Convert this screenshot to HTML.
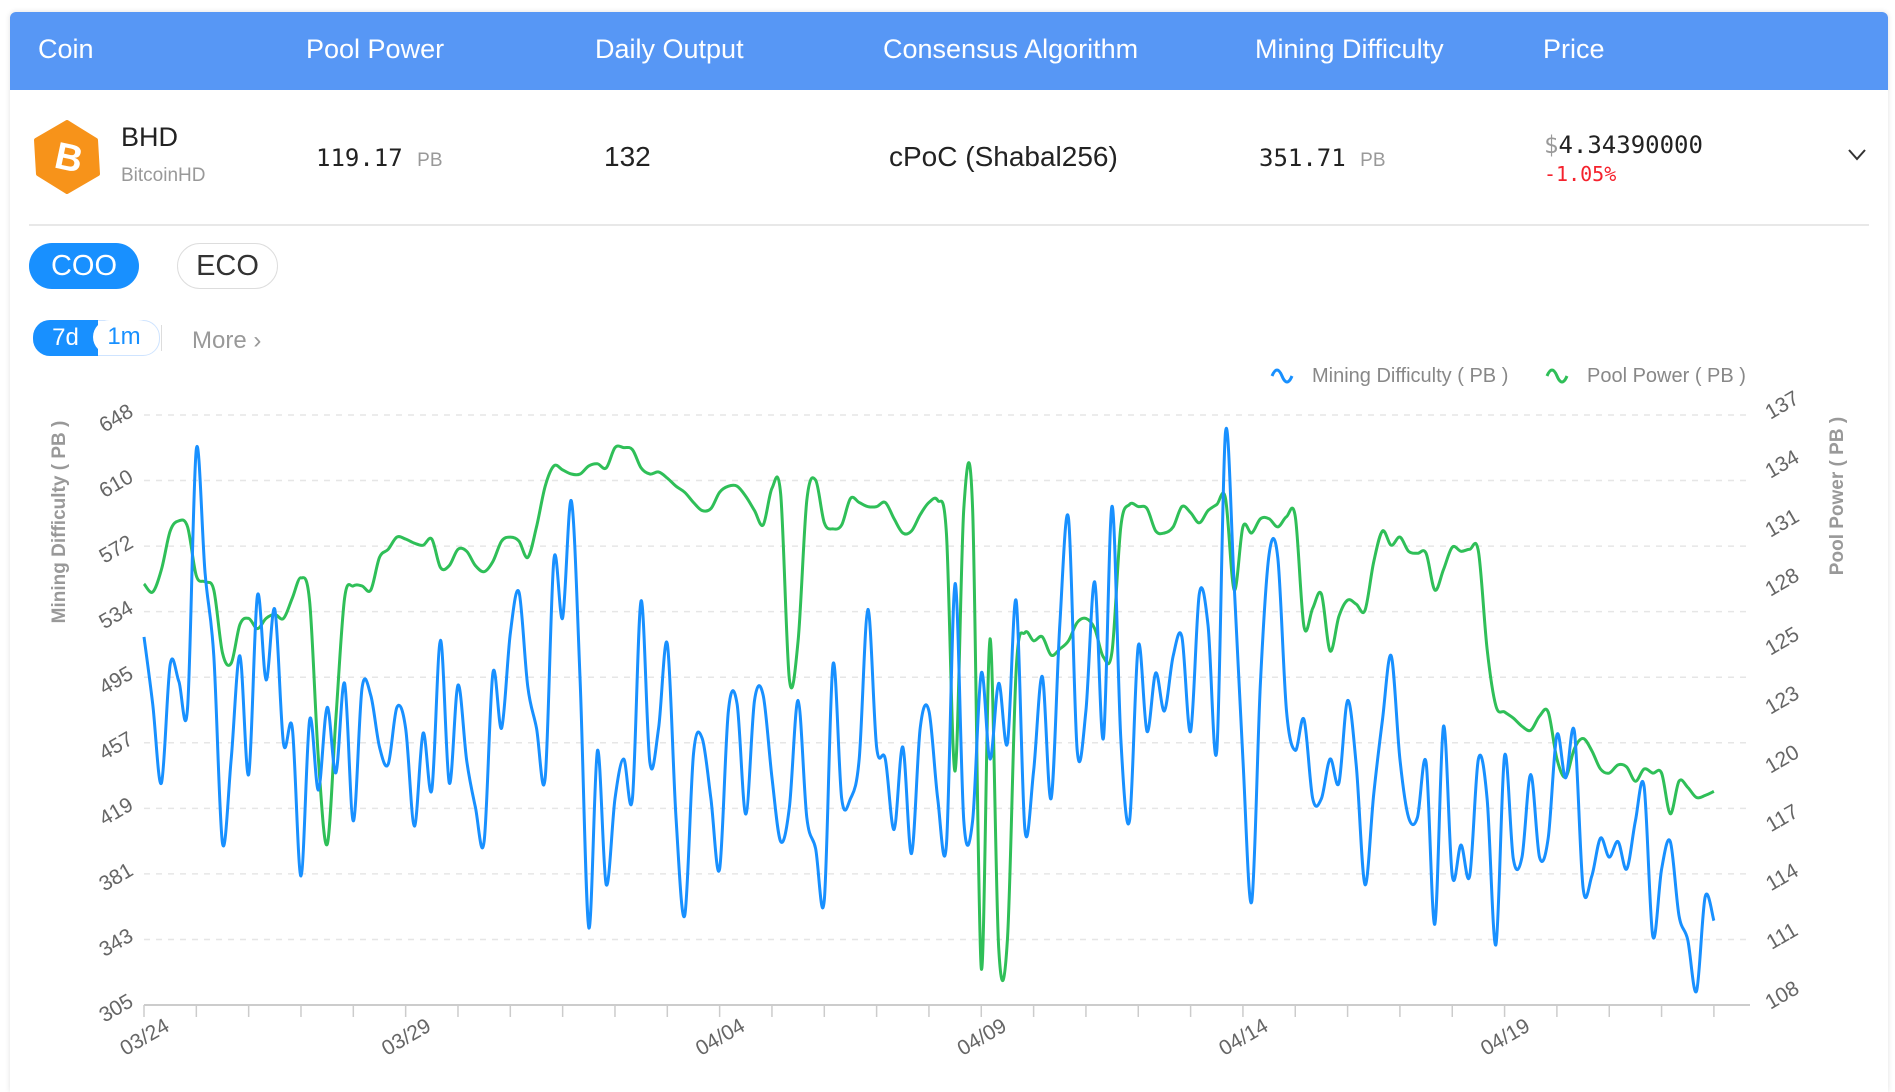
<!DOCTYPE html>
<html><head><meta charset="utf-8">
<style>
html,body{margin:0;padding:0;background:#fff;}
body{width:1895px;height:1082px;overflow:hidden;position:relative;font-family:"Liberation Sans",sans-serif;}
.abs{position:absolute;white-space:nowrap;}
.card{position:absolute;left:10px;top:12px;width:1878px;height:1080px;background:#fff;box-shadow:0 0 6px rgba(0,0,0,0.12);border-radius:6px 6px 0 0;}
.hdr{position:absolute;left:10px;top:12px;width:1878px;height:78px;background:#5797f5;border-radius:6px 6px 0 0;}
.hdr span{position:absolute;top:22px;color:#fff;font-size:27px;}
.mono{font-family:"DejaVu Sans Mono","Liberation Mono",monospace;}
</style></head><body>
<div class="card"></div>
<div class="hdr">
 <span style="left:28px">Coin</span>
 <span style="left:296px">Pool Power</span>
 <span style="left:585px">Daily Output</span>
 <span style="left:873px">Consensus Algorithm</span>
 <span style="left:1245px">Mining Difficulty</span>
 <span style="left:1533px">Price</span>
</div>
<svg class="abs" style="left:30px;top:120px" width="74" height="74" viewBox="0 0 74 74">
 <path d="M37 2 L66 20 L68 54 L37 72 L8 54 L6 20 Z" fill="#f7931a" stroke="#f7931a" stroke-width="4" stroke-linejoin="round"/>
 <text x="39" y="50" font-size="38" font-weight="bold" fill="#fff" text-anchor="middle" font-family="Liberation Sans" transform="rotate(12 37 37)">B</text>
</svg>
<div class="abs" style="left:121px;top:122px;font-size:27px;color:#222">BHD</div>
<div class="abs" style="left:121px;top:165px;font-size:19px;color:#999">BitcoinHD</div>
<div class="abs mono" style="left:316px;top:144px;font-size:24px;color:#222">119.17 <span style="font-size:19px;color:#999;font-family:'Liberation Sans'">PB</span></div>
<div class="abs" style="left:604px;top:141px;font-size:28px;color:#222">132</div>
<div class="abs" style="left:889px;top:141px;font-size:28px;color:#222">cPoC (Shabal256)</div>
<div class="abs mono" style="left:1259px;top:144px;font-size:24px;color:#222">351.71 <span style="font-size:19px;color:#999;font-family:'Liberation Sans'">PB</span></div>
<div class="abs mono" style="left:1544px;top:131px;font-size:24px;color:#222"><span style="color:#999">$</span>4.34390000</div>
<div class="abs mono" style="left:1544px;top:162px;font-size:20px;color:#f5222d">-1.05%</div>
<svg class="abs" style="left:1847px;top:148px" width="20" height="14"><path d="M2 2 L10 11 L18 2" fill="none" stroke="#333" stroke-width="2"/></svg>
<div class="abs" style="left:29px;top:224px;width:1840px;height:2px;background:#e8e8e8"></div>
<div class="abs" style="left:29px;top:243px;width:110px;height:46px;border-radius:23px;background:#1890ff;color:#fff;font-size:29px;line-height:46px;text-align:center">COO</div>
<div class="abs" style="left:177px;top:243px;width:99px;height:44px;border-radius:23px;border:1px solid #ddd;color:#333;font-size:29px;line-height:44px;text-align:center">ECO</div>
<div class="abs" style="left:33px;top:320px;width:125px;height:34px;border-radius:17px;border:1px solid #cfe4ff;background:#fff"></div>
<div class="abs" style="left:33px;top:320px;width:65px;height:36px;border-radius:17px 0 0 17px;background:#1890ff;color:#fff;font-size:24px;line-height:35px;text-align:center">7d</div>
<div class="abs" style="left:93px;top:320px;width:62px;height:34px;border-radius:17px;background:#fff;color:#1890ff;font-size:24px;line-height:34px;text-align:center">1m</div>
<div class="abs" style="left:161px;top:325px;width:1px;height:26px;background:#ddd"></div>
<div class="abs" style="left:192px;top:327px;font-size:24px;color:#999">More &#8250;</div>

<svg class="abs" style="left:0;top:0" width="1895" height="1082" id="chart"></svg>
<script>
const dateLabels=["03/24","03/29","04/04","04/09","04/14","04/19"];
const dateLabelDays=[0,5,11,16,21,26];
const leftTicks=["305","343","381","419","457","495","534","572","610","648"];
const rightTicks=["108","111","114","117","120","123","125","128","131","134","137"];
const difficulty=[519,480,434,503,493,478,628,556,508,399,448,508,439,543,494,535,457,466,380,471,430,478,440,492,412,489,485,455,445,478,466,409,463,430,517,434,491,447,420,400,498,466,521,545,490,466,437,564,530,598,494,350,453,375,425,448,425,540,446,466,515,414,357,451,460,425,384,476,480,416,482,485,437,400,420,482,414,396,366,503,425,425,448,535,455,448,407,455,393,466,476,425,398,550,412,412,498,448,492,457,540,407,441,496,425,526,588,453,476,551,460,595,460,412,514,464,498,476,508,519,464,544,526,453,638,549,448,365,492,567,565,476,453,471,425,425,448,434,482,444,375,428,471,508,448,414,414,446,352,467,380,398,380,448,425,340,450,390,391,439,391,402,462,437,464,373,380,402,391,400,384,412,432,345,384,400,357,343,313,368,354];
const poolPower=[128.7,128.3,129.4,131.3,131.8,131.5,129.1,128.8,128.4,125.3,124.8,126.7,127.0,126.5,127.0,127.2,127.0,128.0,129.0,127.8,120.1,115.9,122.1,128.0,128.6,128.6,128.4,130.0,130.4,131.0,130.9,130.7,130.6,130.9,129.5,129.6,130.4,130.3,129.6,129.3,129.8,130.8,131.0,130.8,130.0,131.5,133.5,134.5,134.3,134.1,134.1,134.5,134.6,134.4,135.4,135.4,135.3,134.4,134.1,134.2,133.9,133.5,133.2,132.7,132.3,132.4,133.2,133.5,133.5,133.0,132.3,131.6,133.4,133.1,124.0,125.9,132.8,133.8,131.7,131.4,131.6,132.9,132.7,132.5,132.5,132.7,131.9,131.2,131.3,132.1,132.7,132.8,131.2,119.5,132.4,132.4,109.8,126.0,110.8,111.2,124.5,126.3,125.9,126.1,125.2,125.5,125.9,126.8,127.0,126.5,125.1,125.4,131.5,132.6,132.5,132.4,131.3,131.2,131.5,132.5,132.2,131.7,132.3,132.6,132.9,128.4,131.5,131.2,131.9,131.9,131.5,132.0,132.0,126.6,127.5,128.2,125.4,127.1,127.9,127.7,127.4,129.8,131.3,130.6,131.0,130.3,130.2,130.2,128.4,129.4,130.5,130.3,130.4,130.3,125.5,122.7,122.4,122.1,121.7,121.5,122.2,122.4,120.1,119.2,120.6,121.1,120.5,119.6,119.4,119.8,119.7,119.0,119.6,119.4,119.4,117.4,119.0,118.7,118.2,118.3,118.5];
const NS="http://www.w3.org/2000/svg";
const svg=document.getElementById('chart');
const X0=144,DAY=52.33,PPD=6,Y0=1005,Y1=415;
const xDay=d=>X0+d*DAY;
const xIdx=i=>X0+i*DAY/PPD;
const yL=v=>Y0-(v-305)/(648-305)*(Y0-Y1);
const yR=v=>Y0-(v-108)/(137-108)*(Y0-Y1);
function mk(tag,attrs,txt){const e=document.createElementNS(NS,tag);for(const k in attrs)e.setAttribute(k,attrs[k]);if(txt!==undefined)e.textContent=txt;svg.appendChild(e);return e;}
for(let k=1;k<leftTicks.length;k++){const y=Y0-k*(Y0-Y1)/(leftTicks.length-1);
 const g=mk('line',{x1:X0,x2:1750,y1:y,y2:y,stroke:'#e6e6e6','stroke-width':1.5,'stroke-dasharray':'6,6'});
 
 }
leftTicks.forEach((t,k)=>{const y=Y0-k*(Y0-Y1)/(leftTicks.length-1);
 const e=mk('text',{x:116,y:y+10,'text-anchor':'middle','font-size':21,fill:'#666',transform:`rotate(-30 116 ${y+3})`,'font-family':'Liberation Sans'},t);
 
 });
rightTicks.forEach((t,k)=>{const y=Y0-k*(Y0-Y1)/(rightTicks.length-1);
 const e=mk('text',{x:1782,y:y-3,'text-anchor':'middle','font-size':21,fill:'#666',transform:`rotate(-30 1782 ${y-10})`,'font-family':'Liberation Sans'},t);
 
 });
const ax=mk('line',{x1:X0,x2:1750,y1:Y0,y2:Y0,stroke:'#ccc','stroke-width':2});


for(let d=0;d<=30;d++){const t=mk('line',{x1:xDay(d),x2:xDay(d),y1:Y0,y2:Y0+12,stroke:'#ccc','stroke-width':1.5});
 
 }
dateLabels.forEach((l,k)=>{const x=xDay(dateLabelDays[k]);
 const e=mk('text',{x:x,y:1044,'text-anchor':'middle','font-size':21,fill:'#666',transform:`rotate(-30 ${x} 1036)`,'font-family':'Liberation Sans'},l);
 
 });
const lt=mk('text',{x:60,y:522,'text-anchor':'middle','font-size':19,'font-weight':'bold',fill:'#999',transform:'rotate(-90 60 522)','dominant-baseline':'middle','font-family':'Liberation Sans'},'Mining Difficulty ( PB )');


const rt=mk('text',{x:1838,y:496,'text-anchor':'middle','font-size':19,'font-weight':'bold',fill:'#999',transform:'rotate(-90 1838 496)','dominant-baseline':'middle','font-family':'Liberation Sans'},'Pool Power ( PB )');


function smooth(pts){let d=`M${pts[0][0]},${pts[0][1]}`;
 for(let i=0;i<pts.length-1;i++){const p0=pts[i-1]||pts[i],p1=pts[i],p2=pts[i+1],p3=pts[i+2]||p2;
  const c1=[p1[0]+(p2[0]-p0[0])/6,p1[1]+(p2[1]-p0[1])/6],c2=[p2[0]-(p3[0]-p1[0])/6,p2[1]-(p3[1]-p1[1])/6];
  d+=` C${c1[0].toFixed(1)},${c1[1].toFixed(1)} ${c2[0].toFixed(1)},${c2[1].toFixed(1)} ${p2[0].toFixed(1)},${p2[1].toFixed(1)}`;}
 return d;}
const gp=mk('path',{d:smooth(poolPower.map((v,i)=>[xIdx(i),yR(v)])),fill:'none',stroke:'#2fbf58','stroke-width':3,'stroke-linejoin':'round'});


const bp=mk('path',{d:smooth(difficulty.map((v,i)=>[xIdx(i),yL(v)])),fill:'none',stroke:'#1890ff','stroke-width':3,'stroke-linejoin':'round'});


function legend(x,color,label,name){
 const ic=mk('path',{d:`M${x},${376} q5,-12 10,0 t10,0`,fill:'none',stroke:color,'stroke-width':3});
 
 
 const t=mk('text',{x:x+40,y:382,'font-size':20,fill:'#888','font-family':'Liberation Sans'},label);
 
 }
legend(1272,'#1890ff','Mining Difficulty ( PB )','legend-mining-difficulty');
legend(1547,'#2fbf58','Pool Power ( PB )','legend-pool-power');
</script>
</body></html>
